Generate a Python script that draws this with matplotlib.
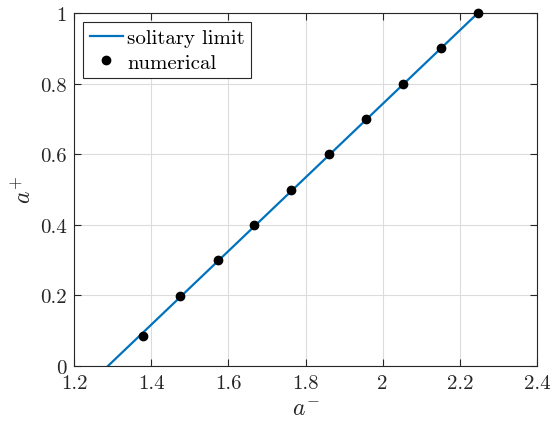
import matplotlib
matplotlib.use("Agg")
import matplotlib.pyplot as plt
import numpy as np

plt.rcParams['font.family'] = 'serif'
plt.rcParams['font.serif'] = ['cmr10']
plt.rcParams['mathtext.fontset'] = 'cm'
plt.rcParams['axes.formatter.use_mathtext'] = True

# solitary limit line endpoints (a-, a+)
line_am = [1.288, 2.247]
line_ap = [0.0, 1.0]
# numerical points
num_am = [1.379, 1.475, 1.573, 1.667, 1.762, 1.861, 1.957, 2.053, 2.151, 2.247]
num_ap = [0.085, 0.198, 0.30, 0.40, 0.50, 0.60, 0.70, 0.80, 0.90, 1.0]
xticks = [1.2, 1.4, 1.6, 1.8, 2.0, 2.2, 2.4]
xticklabels = ['1.2', '1.4', '1.6', '1.8', '2', '2.2', '2.4']
yticks = [0, 0.2, 0.4, 0.6, 0.8, 1.0]
yticklabels = ['0', '0.2', '0.4', '0.6', '0.8', '1']

fig = plt.figure(figsize=(5.55, 4.27), dpi=100)
ax = fig.add_axes([74/555, 1-367/427, (537-74)/555, (367-14)/427])
ax.plot(line_am, line_ap, color='#0072BD', lw=1.6, label='solitary limit', zorder=2)
ax.plot(num_am, num_ap, 'o', color='black', ms=6, label='numerical', zorder=3, clip_on=False)
ax.set_xlim(1.2, 2.4)
ax.set_ylim(0, 1)
ax.set_xticks(xticks)
ax.set_xticklabels(xticklabels)
ax.set_yticks(yticks)
ax.set_yticklabels(yticklabels)
ax.grid(True, color='#dcdcdc', lw=0.8)
ax.set_axisbelow(True)
ax.tick_params(direction='in', top=True, right=True, labelsize=15, length=5, width=0.8,
               colors='#262626', labelcolor='#262626')
ax.tick_params(axis='x', pad=6)
ax.tick_params(axis='y', pad=5)
for s in ax.spines.values():
    s.set_color('#262626')
    s.set_linewidth(0.8)
ax.set_xlabel(r'$a^{-}$', fontsize=17, labelpad=4, color='#262626')
ax.set_ylabel(r'$a^{+}$', fontsize=17, labelpad=3, color='#262626')
leg = ax.legend(loc='upper left', fontsize=15, frameon=True, fancybox=False,
                edgecolor='#262626', framealpha=1, handlelength=1.6, handletextpad=0.2,
                borderpad=0.3, labelspacing=0.28, borderaxespad=0.45)
leg.get_frame().set_linewidth(0.8)
fig.savefig('out.png', dpi=100)
